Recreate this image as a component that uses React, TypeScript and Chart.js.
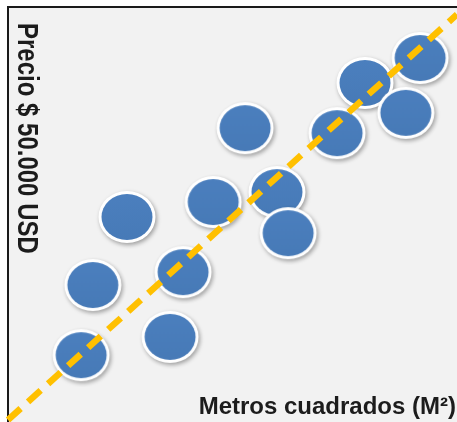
import React, { useEffect, useRef } from "react";
import { Chart, registerables } from "chart.js";

Chart.register(...registerables);

// Scatter data (arbitrary units: 0..100 on each axis)
const areaM2 = [16.3, 18.9, 26.5, 36.1, 39.0, 45.7, 52.8, 59.9, 62.4, 73.3, 79.5, 88.6, 91.8];
const price = [16.1, 33.0, 49.4, 20.5, 36.1, 53.0, 70.8, 55.4, 45.5, 69.6, 81.7, 74.5, 87.7];

// Trend line end points
const trendX = [0, 100];
const trendY = [0.5, 98.2];

const xTitle = "Metros cuadrados (M²)";
const yTitle = "Precio $ 50.000 USD";

function makeEllipse(): HTMLCanvasElement {
  const c = document.createElement("canvas");
  c.width = 70;
  c.height = 64;
  const ctx = c.getContext("2d")!;
  const cx = 35;
  const cy = 32;
  // shadow
  ctx.save();
  ctx.shadowColor = "rgba(0,0,0,0.35)";
  ctx.shadowBlur = 4;
  ctx.shadowOffsetX = 1.5;
  ctx.shadowOffsetY = 2;
  ctx.beginPath();
  ctx.ellipse(cx, cy, 28.5, 26, 0, 0, Math.PI * 2);
  ctx.fillStyle = "#ffffff";
  ctx.fill();
  ctx.restore();
  // blue body
  ctx.beginPath();
  ctx.ellipse(cx, cy, 25.5, 23, 0, 0, Math.PI * 2);
  const g = ctx.createLinearGradient(0, cy - 23, 0, cy + 23);
  g.addColorStop(0, "#4b7fbe");
  g.addColorStop(1, "#477ab7");
  ctx.fillStyle = g;
  ctx.fill();
  return c;
}

export default function App() {
  const ref = useRef<HTMLCanvasElement>(null);

  useEffect(() => {
    document.body.style.margin = "0";
    const canvas = ref.current!;
    const ellipse = makeEllipse();

    const framePlugin = {
      id: "frame",
      beforeDraw(chart: any) {
        const { ctx, chartArea } = chart;
        ctx.save();
        ctx.fillStyle = "#ffffff";
        ctx.fillRect(0, 0, chart.width, chart.height);
        ctx.fillStyle = "#f2f2f2";
        ctx.fillRect(chartArea.left, chartArea.top, chartArea.right - chartArea.left, chartArea.bottom - chartArea.top);
        ctx.fillStyle = "#1a1a1a";
        ctx.fillRect(chartArea.left - 1, chartArea.top - 1, chartArea.right - chartArea.left + 1, 2);
        ctx.fillRect(chartArea.left - 1, chartArea.top - 1, 2, chartArea.bottom - chartArea.top + 1);
        ctx.restore();
      },
      afterDraw(chart: any) {
        const { ctx } = chart;
        ctx.save();
        ctx.fillStyle = "#1c1c1c";
        ctx.font = "bold 24px 'Liberation Sans', Arial, sans-serif";
        ctx.textAlign = "right";
        ctx.textBaseline = "alphabetic";
        ctx.fillText(xTitle, 456, 414);
        ctx.restore();

        ctx.save();
        ctx.fillStyle = "#1c1c1c";
        ctx.translate(18, 23);
        ctx.rotate(Math.PI / 2);
        ctx.scale(0.8, 1);
        ctx.font = "bold 30px 'Liberation Sans', Arial, sans-serif";
        ctx.textAlign = "left";
        ctx.textBaseline = "alphabetic";
        ctx.fillText(yTitle, 0, 0);
        ctx.restore();
      },
    };

    const chart = new Chart(canvas, {
      type: "scatter",
      data: {
        datasets: [
          {
            type: "line",
            data: trendX.map((x, i) => ({ x, y: trendY[i] })),
            borderColor: "#ffc000",
            borderWidth: 6.5,
            borderDash: [17, 10],
            borderCapStyle: "butt",
            pointRadius: 0,
            fill: false,
            order: 0,
            clip: false,
          } as any,
          {
            type: "scatter",
            data: areaM2.map((x, i) => ({ x, y: price[i] })),
            pointStyle: ellipse as any,
            pointRadius: 28,
            backgroundColor: "#4a7dbb",
            order: 1,
            clip: false,
          } as any,
        ],
      },
      options: {
        responsive: false,
        animation: false,
        layout: { autoPadding: false, padding: { left: 8, top: 7, right: 0, bottom: 0 } },
        scales: {
          x: { type: "linear", min: 0, max: 100, display: false },
          y: { type: "linear", min: 0, max: 100, display: false },
        },
        plugins: {
          legend: { display: false },
          tooltip: { enabled: false },
        },
      },
      plugins: [framePlugin],
    });
    return () => chart.destroy();
  }, []);

  return <canvas ref={ref} width={457} height={422} style={{ display: "block" }} />;
}
